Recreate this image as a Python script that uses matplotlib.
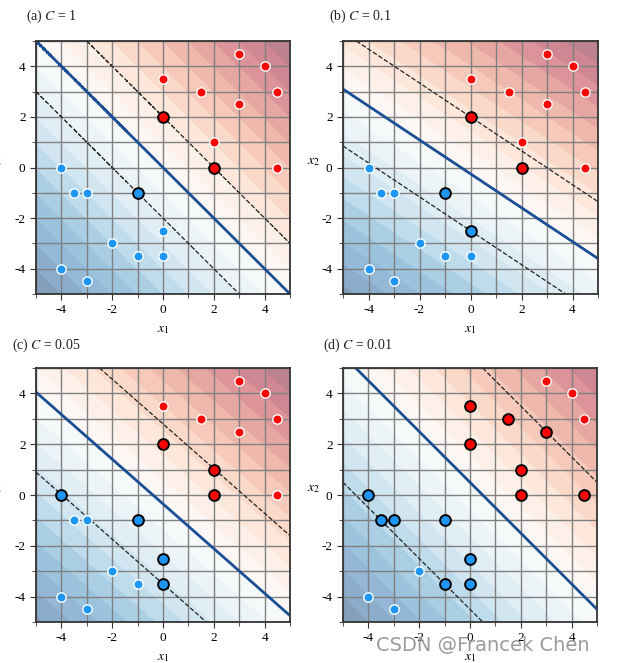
import numpy as np
import matplotlib
matplotlib.use("Agg")
import matplotlib.pyplot as plt
from matplotlib.ticker import MultipleLocator
from matplotlib.colors import ListedColormap

plt.rcParams['font.family'] = ['Liberation Serif', 'DejaVu Serif']
plt.rcParams['mathtext.fontset'] = 'stix'

# training data
pos_x1 = [0, 3, 4, 1.5, 3, 4.5, 0, 2, 2, 4.5]
pos_x2 = [3.5, 4.5, 4, 3, 2.5, 3, 2, 1, 0, 0]
neg_x1 = [-4, -3.5, -3, -1, 0, -2, -1, 0, -4, -3]
neg_x2 = [0, -1, -1, -1, -2.5, -3, -3.5, -3.5, -4, -4.5]

# one entry per panel
panel_tags = ['(a)', '(b)', '(c)', '(d)']
C_values = ['1', '0.1', '0.05', '0.01']
line_slope = [-1.0, -0.67, -0.88, -1.0]      # slope of separating line
line_offset = [0.0, -0.25, -0.35, 0.5]       # x2-intercept of separating line
margin_half = [2.0, 2.25, 3.15, 5.0]         # vertical distance to margin lines

support_vectors = [
    [(0, 2), (2, 0), (-1, -1)],
    [(0, 2), (2, 0), (-1, -1), (0, -2.5)],
    [(0, 2), (2, 1), (2, 0), (-4, 0), (-1, -1), (0, -2.5), (0, -3.5)],
    [(0, 3.5), (1.5, 3), (3, 2.5), (0, 2), (2, 1), (2, 0), (4.5, 0),
     (-4, 0), (-3.5, -1), (-3, -1), (-1, -1), (0, -2.5), (-1, -3.5), (0, -3.5)],
]

W, H = 622, 663
fig = plt.figure(figsize=(W / 100, H / 100), dpi=100)

# axes boxes in pixels: left, top, right, bottom
boxes = [(36, 41, 290, 294), (343, 41, 598, 294),
         (36, 368, 290, 622), (343, 368, 597, 622)]
title_pos = [(26, 16), (329, 16), (12, 345), (323, 345)]

g = np.linspace(-5, 5, 401)
X1, X2 = np.meshgrid(g, g)

# RdBu_r washed half-way to white (same look as alpha=0.5, without seams)
base = plt.get_cmap('RdBu_r')(np.linspace(0, 1, 256))
base[:, :3] = 0.5 * base[:, :3] + 0.5
soft_cmap = ListedColormap(base)

red = '#ff0000'
blue = '#1e96f5'

for i in range(4):
    l, t, r, b = boxes[i]
    ax = fig.add_axes([l / W, 1 - b / H, (r - l) / W, (b - t) / H])
    F = (X2 - line_slope[i] * X1 - line_offset[i]) / margin_half[i]
    m = np.abs(F).max()
    cs = ax.contourf(X1, X2, F, levels=np.linspace(-m, m, 21), cmap=soft_cmap,
                     antialiased=False)
    ax.contour(X1, X2, F, levels=[0], colors='#1a4f94', linewidths=2.0)
    ax.contour(X1, X2, F, levels=[-1, 1], colors='#222222', linewidths=0.9,
               linestyles='dashed')

    sv = support_vectors[i]
    for xs, ys, col in [(pos_x1, pos_x2, red), (neg_x1, neg_x2, blue)]:
        for x, y in zip(xs, ys):
            if (x, y) in sv:
                ax.scatter(x, y, s=60, c=col, edgecolors='black', linewidths=1.4, zorder=4)
            else:
                ax.scatter(x, y, s=45, c=col, edgecolors='white', linewidths=1.0, zorder=3)

    ax.set_xlim(-5, 5)
    ax.set_ylim(-5, 5)
    ax.xaxis.set_major_locator(MultipleLocator(2))
    ax.yaxis.set_major_locator(MultipleLocator(2))
    ax.xaxis.set_minor_locator(MultipleLocator(1))
    ax.yaxis.set_minor_locator(MultipleLocator(1))
    ax.grid(True, which='both', color='#808080', linewidth=1.0)
    ax.tick_params(which='both', direction='out', labelsize=9.5, color='#333333')
    ax.tick_params(which='major', length=4)
    ax.tick_params(which='minor', length=3)
    ax.set_xticklabels([f'{v:g}' for v in ax.get_xticks()])
    ax.set_yticklabels([f'{v:g}' for v in ax.get_yticks()])
    for s in ax.spines.values():
        s.set_linewidth(1.3)
        s.set_color('#333333')

    ax.set_xlabel('$x_1$', fontsize=10)
    ax.xaxis.set_label_coords(0.5, -0.115)
    ax.set_ylabel('$x_2$', fontsize=10, rotation=0)
    if i % 2 == 0:
        ax.yaxis.set_label_coords(-0.16, 0.5)
    else:
        ax.yaxis.set_label_coords(-0.115, 0.5)

    tx, ty = title_pos[i]
    fig.text(tx / W, 1 - ty / H, panel_tags[i] + ' $C$ = ' + C_values[i],
             fontsize=10, va='center', ha='left', color='#222222')

fig.text(590 / W, 1 - 645 / H, 'CSDN @Francek Chen', fontsize=14,
         family='DejaVu Sans', color='#9a9a9a', ha='right', va='center')

fig.savefig('out.png', dpi=100)
